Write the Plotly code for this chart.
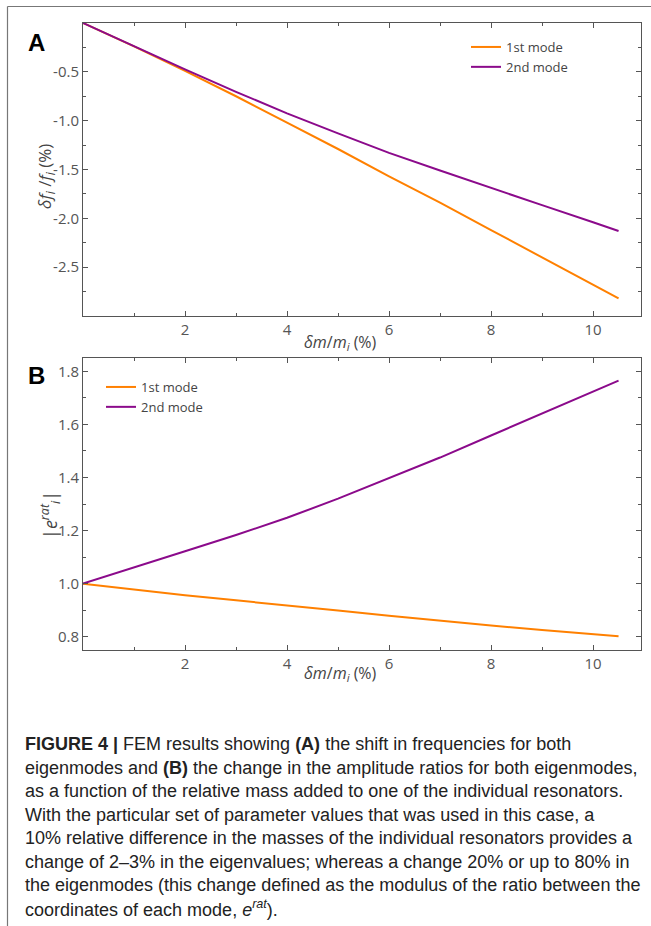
import plotly.graph_objects as go

W, H = 651, 926

# ---- data ----
dm = [0, 1, 2, 3, 4, 5, 6, 7, 8, 9, 10, 10.5]
freq_mode1 = [0, -0.24, -0.49, -0.75, -1.02, -1.29, -1.57, -1.84, -2.12, -2.40, -2.68, -2.82]
freq_mode2 = [0, -0.24, -0.475, -0.705, -0.925, -1.13, -1.33, -1.51, -1.69, -1.865, -2.04, -2.13]
ratio_mode1 = [1.0, 0.977, 0.956, 0.937, 0.919, 0.899, 0.879, 0.860, 0.842, 0.825, 0.809, 0.802]
ratio_mode2 = [1.0, 1.06, 1.122, 1.183, 1.248, 1.32, 1.399, 1.475, 1.558, 1.64, 1.722, 1.765]
series_names = ["1st mode", "2nd mode"]
x_ticks = [2, 4, 6, 8, 10]
x_minor = [1, 3, 5, 7, 9]
ya_ticks = [-0.5, -1.0, -1.5, -2.0, -2.5]
ya_labels = ["-0.5", "-1.0", "-1.5", "-2.0", "-2.5"]
ya_minor = [-0.25, -0.75, -1.25, -1.75, -2.25, -2.75]
yb_ticks = [0.8, 1.0, 1.2, 1.4, 1.6, 1.8]
yb_labels = ["0.8", "1.0", "1.2", "1.4", "1.6", "1.8"]
yb_minor = [0.9, 1.1, 1.3, 1.5, 1.7]

caption_lines = [
    "<b>FIGURE 4 |</b> FEM results showing <b>(A)</b> the shift in frequencies for both",
    "eigenmodes and <b>(B)</b> the change in the amplitude ratios for both eigenmodes,",
    "as a function of the relative mass added to one of the individual resonators.",
    "With the particular set of parameter values that was used in this case, a",
    "10% relative difference in the masses of the individual resonators provides a",
    "change of 2–3% in the eigenvalues; whereas a change 20% or up to 80% in",
    "the eigenmodes (this change defined as the modulus of the ratio between the",
    "coordinates of each mode, <i>e</i><sup><i>rat</i></sup>).",
]

ORANGE = "#FF8000"
PURPLE = "#8B0A8B"
AX = "#555555"
TXT = "#555555"

fig = go.Figure()
fig.add_trace(go.Scatter(x=dm, y=freq_mode1, mode="lines", name=series_names[0],
                         line=dict(color=ORANGE, width=2),
                         xaxis="x", yaxis="y", legend="legend"))
fig.add_trace(go.Scatter(x=dm, y=freq_mode2, mode="lines", name=series_names[1],
                         line=dict(color=PURPLE, width=2),
                         xaxis="x", yaxis="y", legend="legend"))
fig.add_trace(go.Scatter(x=dm, y=ratio_mode1, mode="lines", name=series_names[0],
                         line=dict(color=ORANGE, width=2),
                         xaxis="x2", yaxis="y2", legend="legend2"))
fig.add_trace(go.Scatter(x=dm, y=ratio_mode2, mode="lines", name=series_names[1],
                         line=dict(color=PURPLE, width=2),
                         xaxis="x2", yaxis="y2", legend="legend2"))

def px_x(p):
    return p / W

def px_y(p):
    return 1 - p / H

tickfont = dict(family="Open Sans", size=15, color=TXT)
common = dict(showline=True, linecolor=AX, linewidth=1, mirror="allticks",
              ticks="inside", ticklen=5, tickcolor=AX, tickwidth=1,
              showgrid=False, zeroline=False, tickfont=tickfont)

xdom = [px_x(83), px_x(641)]
xr = [0, 10.94]
legfont = dict(family="Open Sans", size=13, color="#444")
fig.update_layout(
    width=W, height=H, margin=dict(l=0, r=0, t=0, b=0),
    paper_bgcolor="white", plot_bgcolor="white",
    xaxis=dict(domain=xdom, range=xr, tickvals=x_ticks, anchor="y",
               minor=dict(tickvals=x_minor, ticks="inside", ticklen=3, tickcolor=AX),
               **common),
    yaxis=dict(domain=[px_y(316), px_y(23)], range=[-3.0, 0.0], tickvals=ya_ticks,
               ticktext=ya_labels, anchor="x",
               minor=dict(tickvals=ya_minor, ticks="inside", ticklen=3, tickcolor=AX),
               **common),
    xaxis2=dict(domain=xdom, range=xr, tickvals=x_ticks, anchor="y2",
                minor=dict(tickvals=x_minor, ticks="inside", ticklen=3, tickcolor=AX),
                **common),
    yaxis2=dict(domain=[px_y(650), px_y(358)], range=[0.75, 1.85], tickvals=yb_ticks,
                ticktext=yb_labels, anchor="x2",
                minor=dict(tickvals=yb_minor, ticks="inside", ticklen=3, tickcolor=AX),
                **common),
    legend=dict(x=px_x(466), y=px_y(32), xanchor="left", yanchor="top",
                bgcolor="rgba(0,0,0,0)", font=legfont, tracegroupgap=0, itemwidth=30),
    legend2=dict(x=px_x(101), y=px_y(372), xanchor="left", yanchor="top",
                 bgcolor="rgba(0,0,0,0)", font=legfont, tracegroupgap=0, itemwidth=30),
    showlegend=True,
)

ann = []
def add_text(text, x, y, font, angle=0, xa="center", ya="middle"):
    ann.append(dict(text=text, x=px_x(x), y=px_y(y), xref="paper", yref="paper",
                    xanchor=xa, yanchor=ya, showarrow=False, textangle=angle, font=font))

# panel labels
lab_font = dict(family="Liberation Sans", size=24, color="black")
add_text("<b>A</b>", 36, 43, lab_font)
add_text("<b>B</b>", 36, 376, lab_font)
# axis titles
title_font = dict(family="Open Sans", size=16, color="#444")
xt = "<i>δm</i>/<i>m<sub>i</sub></i> (%)"
add_text(xt, 340, 342, title_font)
add_text(xt, 340, 673, title_font)
add_text("<i>δf<sub>i</sub></i> /<i>f<sub>i</sub></i> (%)", 46, 177,
         dict(family="Open Sans", size=17, color="#444"), angle=-90)
add_text("|<i>e</i><sup><i>rat</i></sup><sub><i>i</i></sub>|", 50, 515,
         dict(family="Open Sans", size=18, color="#444"), angle=-90)
# caption
cap_font = dict(family="Liberation Sans", size=18, color="#222")
for i, line in enumerate(caption_lines):
    add_text(line, 23, 744 + i * 23.5, cap_font, xa="left")
fig.update_layout(annotations=ann)

# frame lines
fig.add_shape(type="line", xref="paper", yref="paper", x0=px_x(7.5), x1=1, y0=px_y(6.5), y1=px_y(6.5),
              line=dict(color="#777", width=1.2))
fig.add_shape(type="line", xref="paper", yref="paper", x0=px_x(7.5), x1=px_x(7.5), y0=0, y1=px_y(6.5),
              line=dict(color="#777", width=1.2))

fig.write_html("out.html", config={"displayModeBar": False},
               post_script="document.body.style.margin='0';document.body.style.padding='0';")
